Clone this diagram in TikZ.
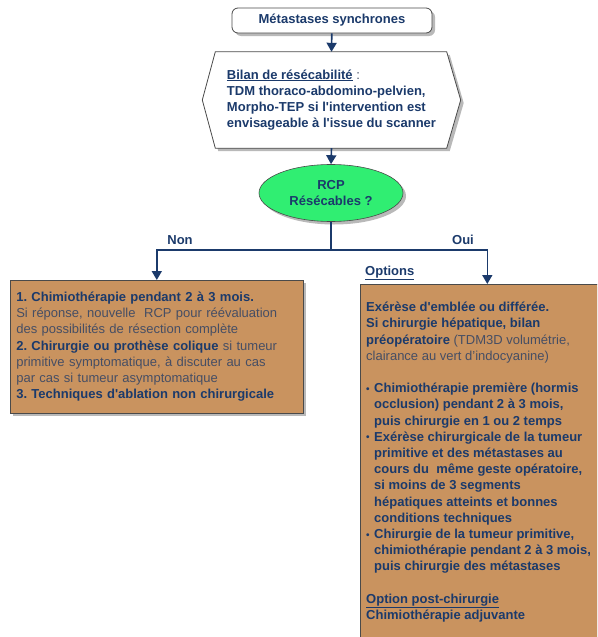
\documentclass[tikz,border=0pt]{standalone}
\usepackage{fontspec}
\setmainfont{Liberation Sans}
\usetikzlibrary{arrows.meta,shapes.geometric,shadows,calc}
\definecolor{navy}{HTML}{1B3A6B}
\definecolor{txtgray}{HTML}{464E64}
\definecolor{boxtan}{HTML}{C9935F}
\definecolor{rcpgreen}{HTML}{30EE72}
\definecolor{edge}{HTML}{4A4A4A}
\pgfdeclarelayer{bg}
\pgfsetlayers{bg,main}
\frenchspacing
\newcommand{\nb}[1]{{\mdseries\color{txtgray}#1}}
\newcommand{\q}{\textquotesingle}
\newcommand{\bul}{\makebox[8pt][l]{\raisebox{0.5pt}{\fontsize{10}{10}\selectfont•}}}
\begin{document}
\begin{tikzpicture}[x=1pt,y=-1pt,
  every node/.style={font=\fontsize{13}{16.2}\selectfont\bfseries, text=navy},
  shadowed/.style={drop shadow={shadow xshift=3pt,shadow yshift=-3pt,opacity=0.5,fill=black!55}},
  topbox/.style={draw=edge, fill=white, rounded corners=6pt, minimum width=200, minimum height=25, line width=0.8, shadowed},
  hexline/.style={draw=edge, fill=white, line width=0.8, shadowed},
  rcpnode/.style={ellipse, draw=edge, fill=rcpgreen, minimum width=144, minimum height=57, line width=0.6, shadowed, align=center, inner sep=0},
  tanbox/.style={draw=edge, fill=boxtan, line width=0.6, shadowed},
  conn/.style={draw=navy, line width=1.6},
  arr/.style={conn, -{Triangle[length=9,width=10]}},
  lbl/.style={inner sep=0}
]
\useasboundingbox (0,0) rectangle (597,637);
\clip (0,0) rectangle (597,637);

\node[topbox] (top) at (332,20.5) {Métastases synchrones};

\node[minimum width=258, minimum height=96, inner sep=0, align=left] (hex) at (331.5,100)
  {\underline{Bilan de résécabilité}\nb{\ :}\\
   TDM thoraco-abdomino-pelvien,\\
   Morpho-TEP si l\q intervention est\\
   envisageable à l\q issue du scanner};
\begin{pgfonlayer}{bg}
\path[hexline] (hex.west) -- ($(hex.north west)+(13,0)$) -- ($(hex.north east)+(-14,0)$)
  -- (hex.east) -- ($(hex.south east)+(-14,0)$) -- ($(hex.south west)+(13,0)$) -- cycle;
\end{pgfonlayer}

\node[rcpnode] (rcp) at (331,193) {RCP\\Résécables ?};

\node[tanbox, anchor=north west, minimum width=293, minimum height=133, text width=281, inner xsep=6, inner ysep=0, align=left] (left) at (10,280)
  {1. Chimiothérapie pendant 2 à 3 mois.\\
   \nb{Si réponse, nouvelle\ \ RCP pour réévaluation}\\
   \nb{des possibilités de résection complète}\\
   2. Chirurgie ou prothèse colique \nb{si tumeur}\\
   \nb{primitive symptomatique, à discuter au cas}\\
   \nb{par cas si tumeur asymptomatique}\\
   3. Techniques d\q ablation non chirurgicale};

\node[tanbox, anchor=north west, minimum width=254, minimum height=370] (right) at (360,284) {};
\node[lbl, anchor=north west, align=left] (rtext) at (366,302)
  {Exérèse d\q emblée ou différée.\\
   Si chirurgie hépatique, bilan\\
   préopératoire \nb{(TDM3D volumétrie,}\\
   \nb{clairance au vert d’indocyanine)}\\[16.2pt]
   \bul Chimiothérapie première (hormis\\
   \hspace*{8pt}occlusion) pendant 2 à 3 mois,\\
   \hspace*{8pt}puis chirurgie en 1 ou 2 temps\\
   \bul Exérèse chirurgicale de la tumeur\\
   \hspace*{8pt}primitive et des métastases au\\
   \hspace*{8pt}cours du\ \ même geste opératoire,\\
   \hspace*{8pt}si moins de 3 segments\\
   \hspace*{8pt}hépatiques atteints et bonnes\\
   \hspace*{8pt}conditions techniques\\
   \bul Chirurgie de la tumeur primitive,\\
   \hspace*{8pt}chimiothérapie pendant 2 à 3 mois,\\
   \hspace*{8pt}puis chirurgie des métastases\\[16.2pt]
   \underline{Option post-chirurgie}\\
   Chimiothérapie adjuvante};

\node[lbl, anchor=west] (opt) at (365,273) {\underline{Options}};
\node[lbl] (non) at (180,240) {Non};
\node[lbl] (oui) at (463,240) {Oui};

\coordinate (split) at (331,250);
\draw[arr] (top) -- (hex.north);
\draw[arr] (hex.south) -- (rcp.north);
\draw[conn] (rcp.south) -- (split);
\draw[arr] (split) -| (left.north);
\draw[arr] (split) -| (right.north);
\end{tikzpicture}
\end{document}
